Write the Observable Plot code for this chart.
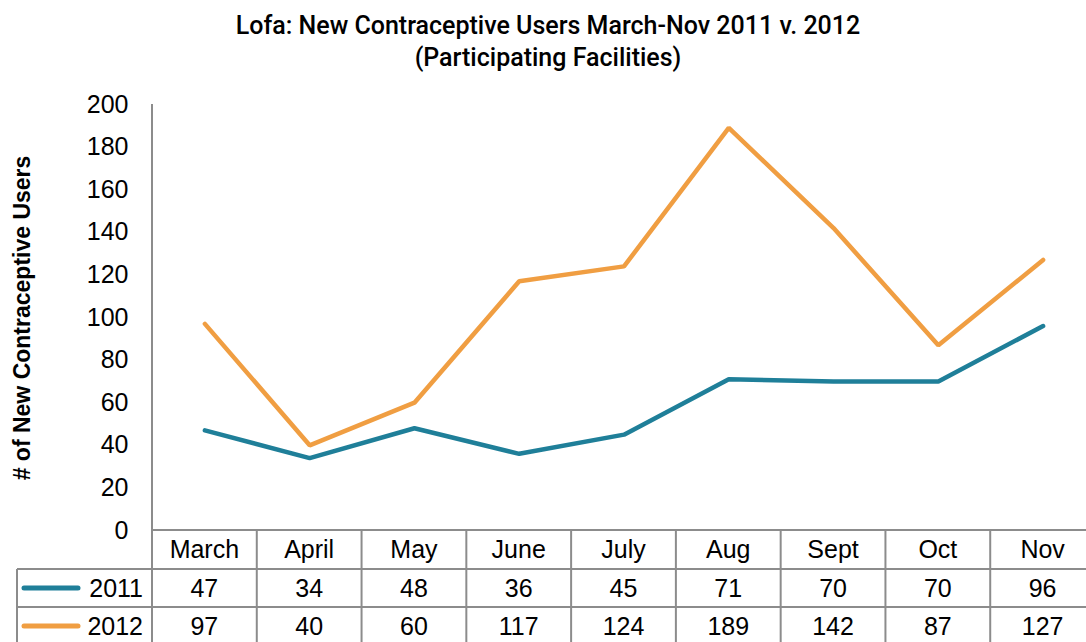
<!DOCTYPE html>
<html><head><meta charset="utf-8">
<script src="https://cdn.jsdelivr.net/npm/d3@7"></script>
<script src="https://cdn.jsdelivr.net/npm/@observablehq/plot@0.6"></script>
<style>body{margin:0;background:#fff;} svg{display:block;}</style>
</head><body><div id="chart"></div>
<script>
const months = ["March","April","May","June","July","Aug","Sept","Oct","Nov"];
const series = ["2011","2012"];
const values2011 = [47,34,48,36,45,71,70,70,96];
const values2012 = [97,40,60,117,124,189,142,87,127];
const yTicks = [0,20,40,60,80,100,120,140,160,180,200];
const colors = ["#1f7f99","#f09e42"];
const titleLines = ["Lofa: New Contraceptive Users March-Nov 2011 v. 2012","(Participating Facilities)"];
const yLabel = "# of New Contraceptive Users";

const rows = [];
[values2011, values2012].forEach((vals, si) => vals.forEach((v, i) => rows.push({month: months[i], series: series[si], value: v})));

const FONT = "Liberation Sans, Arial, sans-serif";
const plot = Plot.plot({
  width: 1086, height: 642,
  marginLeft: 152, marginRight: 0, marginTop: 104, marginBottom: 112,
  style: {fontFamily: FONT, fontSize: "25px", color: "#000", background: "#fff"},
  x: {type: "point", domain: months, range: [152, 1095], padding: 0.5, round: false, axis: null},
  y: {domain: [0, 200], ticks: yTicks, label: null},
  color: {domain: series, range: colors},
  marks: [
    Plot.axisY({ticks: yTicks, tickSize: 0, tickPadding: 24, fontSize: 25, label: null}),
    Plot.line(rows, {x: "month", y: "value", z: "series", stroke: "series", strokeWidth: 4.5, strokeLinejoin: "miter", strokeLinecap: "round"})
  ]
});

const svg = d3.select(plot);
const xs = plot.scale("x"), ys = plot.scale("y");
const y0 = ys.apply(0);
const cx = months.map(m => xs.apply(m));
const step = cx[1] - cx[0];
const borders = [cx[0] - step/2, ...cx.map(c => c + step/2)];
const rowH = [y0, y0 + 39, y0 + 77, y0 + 115];
const grid = "#8c8c8c";
const g = svg.append("g").attr("stroke", grid).attr("stroke-width", 2);
g.append("line").attr("x1", borders[0]).attr("x2", borders[0]).attr("y1", ys.apply(200)).attr("y2", 642);
g.append("line").attr("x1", borders[0]).attr("x2", 1086).attr("y1", rowH[0]).attr("y2", rowH[0]);
g.append("line").attr("x1", 17).attr("x2", 1086).attr("y1", rowH[1]).attr("y2", rowH[1]);
g.append("line").attr("x1", 17).attr("x2", 1086).attr("y1", rowH[2]).attr("y2", rowH[2]);
borders.slice(1).forEach(b => g.append("line").attr("x1", b).attr("x2", b).attr("y1", rowH[0]).attr("y2", 642));
g.append("line").attr("x1", 17).attr("x2", 17).attr("y1", rowH[1]).attr("y2", 642);

const t = svg.append("g").attr("font-family", FONT).attr("font-size", 25).attr("fill", "#000").attr("text-anchor", "middle");
months.forEach((m, i) => t.append("text").attr("x", cx[i]).attr("y", (rowH[0] + rowH[1]) / 2).attr("dy", "0.35em").text(m));
[values2011, values2012].forEach((vals, si) => {
  const ym = (rowH[si + 1] + rowH[si + 2]) / 2;
  vals.forEach((v, i) => t.append("text").attr("x", cx[i]).attr("y", ym).attr("dy", "0.35em").text(v));
  svg.append("line").attr("x1", 24).attr("x2", 78).attr("y1", ym).attr("y2", ym)
    .attr("stroke", colors[si]).attr("stroke-width", 5).attr("stroke-linecap", "round");
  t.append("text").attr("x", 143).attr("y", ym).attr("dy", "0.35em").attr("text-anchor", "end").text(series[si]);
});

const tt = svg.append("g").attr("font-family", "Roboto, Liberation Sans, sans-serif").attr("font-weight", 500)
  .attr("font-size", 25).attr("text-anchor", "middle").attr("fill", "#000");
tt.append("text").attr("x", 548).attr("y", 34).text(titleLines[0]);
tt.append("text").attr("x", 548).attr("y", 66).text(titleLines[1]);
svg.append("text").attr("font-family", FONT).attr("font-size", 23).attr("font-weight", "bold")
  .attr("text-anchor", "middle").attr("transform", "translate(30,318) rotate(-90)").text(yLabel);

document.getElementById("chart").appendChild(plot);
</script></body></html>
